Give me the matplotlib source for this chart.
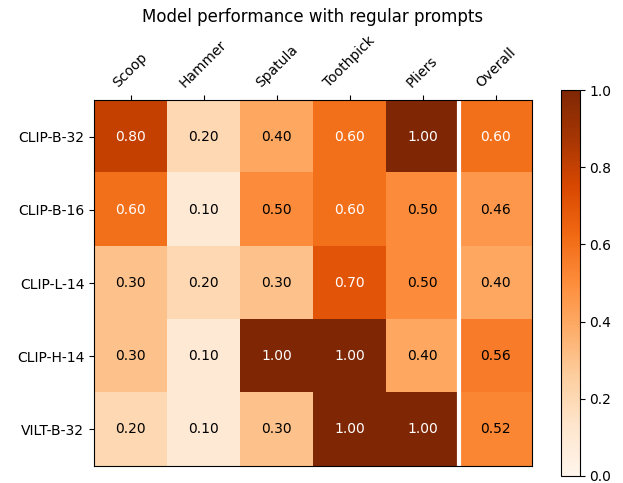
import numpy as np
import matplotlib
matplotlib.use("Agg")
import matplotlib.pyplot as plt

models = ["CLIP-B-32", "CLIP-B-16", "CLIP-L-14", "CLIP-H-14", "VILT-B-32"]
tools = ["Scoop", "Hammer", "Spatula", "Toothpick", "Pliers", "Overall"]
scores = np.array([
    [0.80, 0.20, 0.40, 0.60, 1.00, 0.60],
    [0.60, 0.10, 0.50, 0.60, 0.50, 0.46],
    [0.30, 0.20, 0.30, 0.70, 0.50, 0.40],
    [0.30, 0.10, 1.00, 1.00, 0.40, 0.56],
    [0.20, 0.10, 0.30, 1.00, 1.00, 0.52],
])

fig = plt.figure(figsize=(6.23, 4.83), dpi=100)
ax = fig.add_axes([0.151, 0.035, 0.703, 0.758])
cax = fig.add_axes([0.900, 0.0145, 0.0305, 0.799])

im = ax.imshow(scores, cmap="Oranges", vmin=0, vmax=1, aspect="auto")
fig.colorbar(im, cax=cax)

ax.set_xticks(np.arange(len(tools)))
ax.set_xticklabels(tools, rotation=45)
ax.set_yticks(np.arange(len(models)))
ax.set_yticklabels(models)
ax.tick_params(top=True, bottom=False, labeltop=True, labelbottom=False)

# separate the overall column
ax.axvline(4.5, color="white", linewidth=3)

for i in range(len(models)):
    for j in range(len(tools)):
        v = scores[i, j]
        ax.text(j, i, "{:.2f}".format(v), ha="center", va="center",
                color="white" if v > 0.58 else "black")

fig.text(313 / 623, 1 - 17 / 483, "Model performance with regular prompts",
         ha="center", va="center", fontsize=12)

fig.savefig("out.png", dpi=100)
